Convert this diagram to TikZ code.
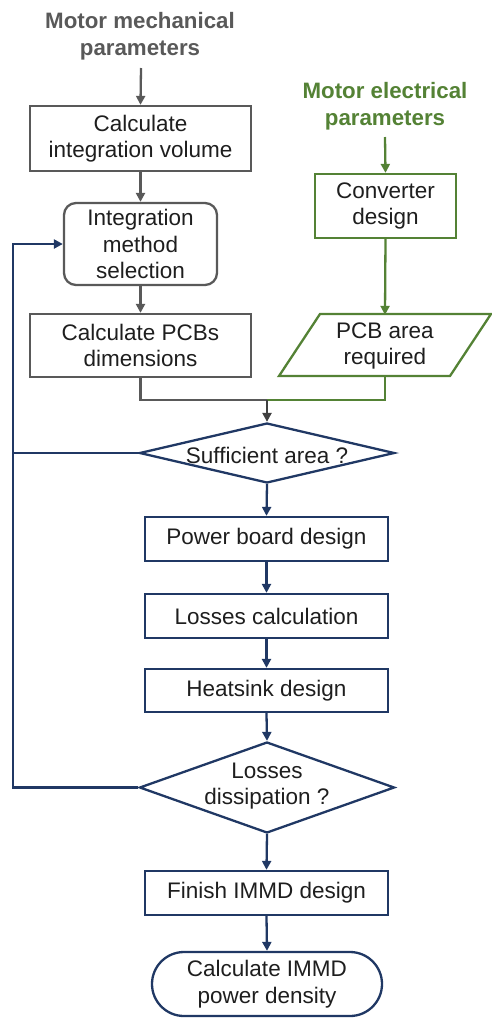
\documentclass[tikz,border=0pt]{standalone}
\usepackage{fontspec}
\setmainfont{Liberation Sans}
\usetikzlibrary{arrows.meta,shapes.geometric}
\definecolor{mgray}{RGB}{89,89,89}
\definecolor{dgray}{RGB}{64,64,64}
\definecolor{mgreen}{RGB}{84,130,53}
\definecolor{mblue}{RGB}{32,56,100}
\definecolor{txt}{RGB}{30,30,30}
\tikzset{
  base/.style={font=\fontsize{22.5}{26.5}\selectfont, text=txt, align=center, inner sep=0pt},
  graybox/.style={base, draw=mgray, line width=2.3pt},
  greenbox/.style={base, draw=mgreen, line width=2.3pt},
  bluebox/.style={base, draw=mblue, line width=2.3pt},
  title/.style={font=\fontsize{22.3}{26.5}\selectfont\bfseries, align=center, inner sep=0pt},
  tip/.style={-{Triangle[length=9pt,width=9pt]}},
  grayline/.style={draw=mgray, line width=2.3pt},
  greenline/.style={draw=mgreen, line width=2.3pt},
  blueline/.style={draw=mblue, line width=2.3pt},
}
\begin{document}
\begin{tikzpicture}[x=1pt,y=-1pt]
\useasboundingbox (0,0) rectangle (492,1018);

% titles
\node[title, text=mgray] (mech) at (140,36) {Motor mechanical\\parameters};
\node[title, text=mgreen] (elec) at (385,106) {Motor electrical\\parameters};
\coordinate (mechs) at (141,68);
\coordinate (elecs) at (385,137);

% gray column
\node[graybox, minimum width=221pt, minimum height=65pt] (b1) at (140.5,138.5) {Calculate\\integration volume};
\node[graybox, rounded corners=12pt, minimum width=153pt, minimum height=82pt] (b2) at (140.5,244) {Integration\\method\\selection};
\node[graybox, minimum width=221pt, minimum height=63pt] (b3) at (140.5,345.5) {Calculate PCBs\\dimensions};

% green column
\node[greenbox, minimum width=141pt, minimum height=64pt] (g1) at (385.5,206) {Converter\\design};
\node[base, minimum width=172pt, minimum height=62pt] (pcb) at (385,346) {PCB area\\required};
\draw[greenline, line join=miter] (320,314) -- (491,314) -- (450,376) -- (279,376) -- cycle;

% blue column
\node[draw=mblue, line width=2.3pt, diamond, minimum width=255pt, minimum height=60pt, inner sep=0pt] (d1) at (267,453) {};
\node[base] (d1t) at (267,455) {Sufficient area ?};
\node[bluebox, minimum width=243pt, minimum height=44pt] (b4) at (266.5,539) {Power board design};
\node[bluebox, minimum width=243pt, minimum height=44pt] (b5) at (266.5,616) {Losses calculation};
\node[bluebox, minimum width=243pt, minimum height=43pt] (b6) at (266.5,690.5) {Heatsink design};
\node[draw=mblue, line width=2.3pt, diamond, minimum width=255pt, minimum height=91pt, inner sep=0pt] (d2) at (267,787.5) {};
\node[base] (d2t) at (267,786) {Losses\\dissipation ?};
\node[bluebox, minimum width=243pt, minimum height=44pt] (b7) at (266.5,893) {Finish IMMD design};
\node[bluebox, rounded corners=32pt, minimum width=230pt, minimum height=64pt] (term) at (267,984) {Calculate IMMD\\power density};

% gray connectors
\draw[grayline, tip] (mechs) -- (b1.north);
\draw[grayline, tip] (b1.south) -- (b2.north);
\draw[grayline, tip] (b2.south) -- (b3.north);

% green connectors
\draw[greenline, tip] (elecs) -- (g1.north);
\draw[greenline, tip] (g1.south) -- (pcb.north);

% merge
\coordinate (merge) at (267,400);
\draw[greenline] (pcb.south) |- (merge);
\draw[grayline] (b3.south) |- (merge);
\draw[draw=dgray, line width=2.3pt, tip] (merge) -- (d1.north);

% blue connectors
\draw[blueline, tip] (d1.south) -- (b4.north);
\draw[blueline, tip] (b4.south) -- (b5.north);
\draw[blueline, tip] (b5.south) -- (b6.north);
\draw[blueline, tip] (b6.south) -- (d2.north);
\draw[blueline, tip] (d2.south) -- (b7.north);
\draw[blueline, tip] (b7.south) -- (term.north);

% loop back
\coordinate (loopx) at (13,0);
\draw[blueline] (d1.west) -- (loopx |- d1.west);
\draw[blueline, tip] (d2.west) -- (loopx |- d2.west) -- (loopx |- b2.west) -- (b2.west);
\end{tikzpicture}
\end{document}
